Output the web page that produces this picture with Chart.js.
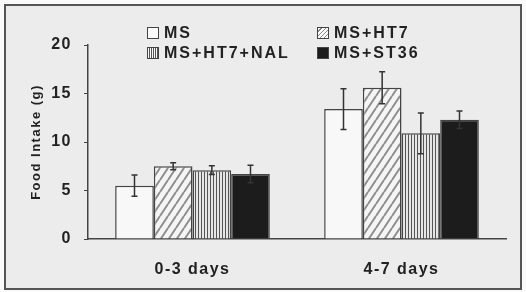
<!DOCTYPE html>
<html>
<head>
<meta charset="utf-8">
<script src="https://cdn.jsdelivr.net/npm/chart.js@4"></script>
<style>
  html, body { margin: 0; padding: 0; background: #fafafa; }
  #wrap { position: relative; width: 526px; height: 292px; }
  #frame { position: absolute; left: 4px; top: 4px; width: 514px; height: 282px;
           border: 2px solid #555; background: #ececec; }
  #box { position: absolute; left: 0; top: 0; width: 526px; height: 292px; }
  .leg { position: absolute; font: bold 16px Arial, "Liberation Sans", sans-serif;
         letter-spacing: 2px; color: #222; line-height: 16px; }
  .sw { display: inline-block; width: 10px; height: 10px; border: 1px solid #444;
        margin-right: 5px; vertical-align: -1px; }
</style>
</head>
<body>
<div id="wrap">
  <div id="frame"></div>
  <div id="box"><canvas id="myChart" width="526" height="292"></canvas></div>
  <div class="leg" style="left:147px;top:25px"><span class="sw" style="background:#fafafa"></span>MS</div>
  <div class="leg" style="left:317px;top:25px"><span class="sw" style="background:repeating-linear-gradient(135deg,#fafafa 0 2px,#888 2px 3px)"></span>MS+HT7</div>
  <div class="leg" style="left:147px;top:45px"><span class="sw" style="background:repeating-linear-gradient(90deg,#fafafa 0 1px,#555 1px 2px)"></span>MS+HT7+NAL</div>
  <div class="leg" style="left:317px;top:45px"><span class="sw" style="background:#1c1c1c"></span>MS+ST36</div>
</div>
<script>
const categories = ['0-3 days', '4-7 days'];
const groups = ['MS', 'MS+HT7', 'MS+HT7+NAL', 'MS+ST36'];
const msValues = [5.5, 13.4];
const ht7Values = [7.5, 15.6];
const nalValues = [7.1, 10.9];
const st36Values = [6.7, 12.3];
const msErr = [1.1, 2.1];
const ht7Err = [0.35, 1.65];
const nalErr = [0.45, 2.1];
const st36Err = [0.9, 0.9];
const yTicks = [0, 5, 10, 15, 20];

// stripe fills
const makePattern = (kind) => {
    const c = document.createElement('canvas');
    const p = c.getContext('2d');
    if (kind === 'diag') {
        c.width = 8; c.height = 12;
        p.fillStyle = '#f5f5f5';
        p.fillRect(0, 0, 8, 12);
        p.strokeStyle = '#8f8f8f';
        p.lineWidth = 2;
        p.beginPath();
        for (let k = -1; k <= 1; k++) {
            p.moveTo(k * 8, 12); p.lineTo(k * 8 + 8, 0);
        }
        p.stroke();
    } else {
        c.width = 3; c.height = 3;
        p.fillStyle = '#e6e6e6';
        p.fillRect(0, 0, 3, 3);
        p.fillStyle = '#555';
        p.fillRect(0, 0, 1, 3);
    }
    return p.createPattern(c, 'repeat');
};

const errors = [msErr, ht7Err, nalErr, st36Err];

const errorBars = {
    id: 'errorBars',
    afterDatasetsDraw(chart) {
        const ctx = chart.ctx;
        const y = chart.scales.y;
        ctx.save();
        ctx.strokeStyle = '#333';
        ctx.lineWidth = 1.5;
        chart.data.datasets.forEach((ds, i) => {
            const meta = chart.getDatasetMeta(i);
            meta.data.forEach((bar, j) => {
                const v = ds.data[j];
                const e = errors[i][j];
                const top = y.getPixelForValue(v + e);
                const bot = y.getPixelForValue(v - e);
                ctx.beginPath();
                ctx.moveTo(bar.x, top); ctx.lineTo(bar.x, bot);
                ctx.moveTo(bar.x - 3, top); ctx.lineTo(bar.x + 3, top);
                ctx.moveTo(bar.x - 3, bot); ctx.lineTo(bar.x + 3, bot);
                ctx.stroke();
            });
        });
        ctx.restore();
    }
};

const spacing = {
    id: 'spacing',
    beforeDraw(chart) { chart.ctx.letterSpacing = '1.5px'; }
};

const font = { family: 'Arial, "Liberation Sans", sans-serif', size: 16, weight: 'bold' };

new Chart(document.getElementById('myChart'), {
    type: 'bar',
    data: {
        labels: categories,
        datasets: [
            { label: groups[0], data: msValues, backgroundColor: '#f8f8f8' },
            { label: groups[1], data: ht7Values, backgroundColor: makePattern('diag') },
            { label: groups[2], data: nalValues, backgroundColor: makePattern('vert') },
            { label: groups[3], data: st36Values, backgroundColor: '#1c1c1c' }
        ].map(d => Object.assign(d, { borderColor: '#444', borderWidth: 1.5,
                                      barPercentage: 1, categoryPercentage: 0.74 }))
    },
    options: {
        responsive: false,
        animation: false,
        layout: { padding: { top: 45, right: 20, left: 0, bottom: 0 } },
        plugins: { legend: { display: false }, tooltip: { enabled: false } },
        scales: {
            x: {
                grid: { display: false },
                border: { display: true, color: '#444', width: 1.5 },
                ticks: { color: '#222', font: font, padding: 13 },
                afterFit: (s) => { s.height = 53; }
            },
            y: {
                min: 0, max: 20,
                afterBuildTicks: (s) => { s.ticks = yTicks.map(v => ({ value: v })); },
                grid: { drawOnChartArea: false, drawTicks: true, tickLength: 4, color: '#444' },
                border: { display: true, color: '#444', width: 1.5 },
                ticks: { color: '#222', font: font, padding: 12 },
                title: { display: true, text: 'Food Intake (g)', color: '#222',
                         font: { family: font.family, size: 13, weight: 'bold' },
                         padding: { top: 29, bottom: 0 } },
                afterFit: (s) => { s.width = 88; }
            }
        }
    },
    plugins: [spacing, errorBars]
});
</script>
</body>
</html>
